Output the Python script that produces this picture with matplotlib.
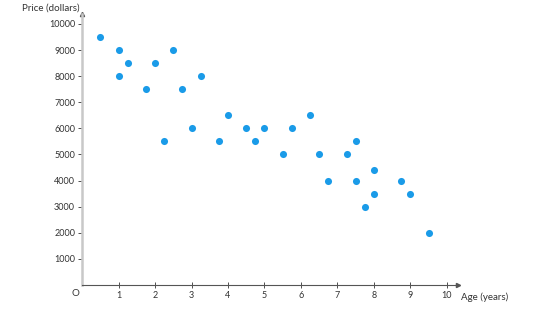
import matplotlib
matplotlib.use("Agg")
import matplotlib.pyplot as plt

# Age (years) and price (dollars) of the cars
age = [0.5, 1, 1, 1.25, 1.75, 2, 2.25, 2.5, 2.75, 3, 3.25, 3.75, 4, 4.5, 4.75,
       5, 5.5, 5.75, 6.25, 6.5, 6.75, 7.25, 7.5, 7.5, 7.75, 8, 8, 8.75, 9, 9.5]
price = [9500, 9000, 8000, 8500, 7500, 8500, 5500, 9000, 7500, 6000, 8000, 5500, 6500, 6000, 5500,
         6000, 5000, 6000, 6500, 5000, 4000, 5000, 5500, 4000, 3000, 4400, 3500, 4000, 3500, 2000]
xticks = [1, 2, 3, 4, 5, 6, 7, 8, 9, 10]
yticks = [1000, 2000, 3000, 4000, 5000, 6000, 7000, 8000, 9000, 10000]

plt.rcParams['font.family'] = ['Lato', 'DejaVu Sans']

fig = plt.figure(figsize=(5.47, 3.25), dpi=100)
ax = fig.add_axes([0.15, 0.123, 0.687, 0.834])

ax.scatter(age, price, s=26, color='#1a9be8', zorder=3, linewidths=0)

ax.set_xlim(0, 10.3)
ax.set_ylim(0, 10380)
ax.set_xticks(xticks)
ax.set_yticks(yticks)
ax.tick_params(axis='both', labelsize=6.5, colors='#333333', length=3, width=0.6)
ax.tick_params(axis='x', direction='inout', length=4, pad=2)
ax.tick_params(axis='y', direction='out', pad=2)

for s in ['top', 'right']:
    ax.spines[s].set_visible(False)
ax.spines['left'].set_color('#c8c8c8')
ax.spines['left'].set_linewidth(1.8)
ax.spines['bottom'].set_color('#555555')
ax.spines['bottom'].set_linewidth(0.8)

# arrow heads at the ends of the axes
ax.plot(1, 0, '>', color='#555555', markersize=3, transform=ax.transAxes, clip_on=False)
ax.plot(0, 1, '^', color='#555555', markersize=3, transform=ax.transAxes, clip_on=False)

fig.text(0.04, 0.975, 'Price (dollars)', fontsize=7, color='#333333', va='center')
fig.text(0.842, 0.085, 'Age (years)', fontsize=7, color='#333333', va='center')
fig.text(0.137, 0.097, 'O', fontsize=7, color='#333333', va='center', ha='center')

fig.savefig('out.png', dpi=100)
